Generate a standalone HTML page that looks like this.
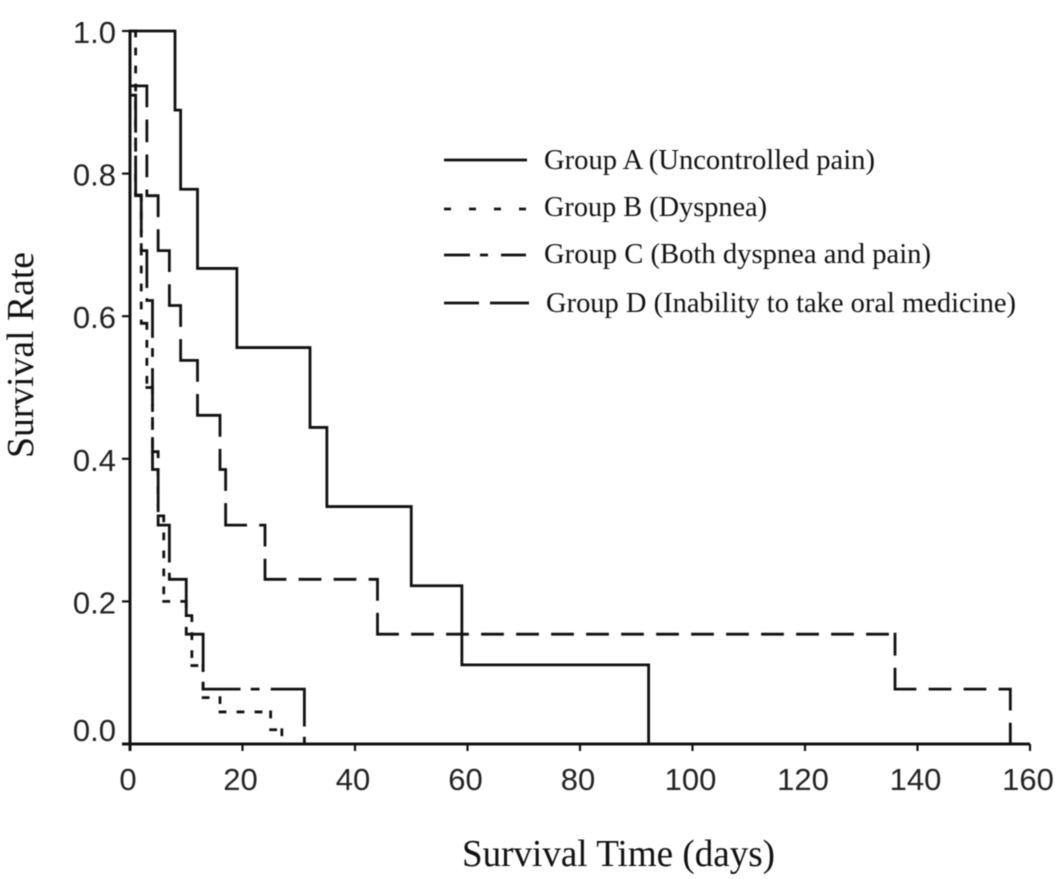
<!DOCTYPE html>
<html>
<head>
<meta charset="utf-8">
<style>
html,body{margin:0;padding:0;background:#fff;width:1063px;height:879px;overflow:hidden}
svg{display:block;filter:blur(.4px)}
.tick{font-family:"Liberation Sans",sans-serif;font-size:31px;fill:#222}
.serif{font-family:"Liberation Serif",serif;fill:#111}
</style>
</head>
<body>
<svg id="chart" width="1063" height="879" viewBox="0 0 1063 879" xmlns="http://www.w3.org/2000/svg">
<g id="axes"></g>
<g id="series"></g>
<g id="legend">
<line x1="444" x2="527" y1="160" y2="160" stroke="#111" stroke-width="2.8"/>
<text class="serif" x="544" y="169" font-size="28" textLength="331" lengthAdjust="spacingAndGlyphs">Group A (Uncontrolled pain)</text>
<line x1="444" x2="527" y1="209" y2="209" stroke="#111" stroke-width="2.8" stroke-dasharray="7 18"/>
<text class="serif" x="544" y="216" font-size="28" textLength="223" lengthAdjust="spacingAndGlyphs">Group B (Dyspnea)</text>
<line x1="444" x2="526" y1="255" y2="255" stroke="#111" stroke-width="2.8" stroke-dasharray="26 10 8 13 26"/>
<text class="serif" x="544" y="263" font-size="28" textLength="387" lengthAdjust="spacingAndGlyphs">Group C (Both dyspnea and pain)</text>
<line x1="444" x2="529" y1="303" y2="303" stroke="#111" stroke-width="2.8" stroke-dasharray="35 11 39"/>
<text class="serif" x="546" y="312" font-size="28" textLength="470" lengthAdjust="spacingAndGlyphs">Group D (Inability to take oral medicine)</text>
</g>
<text class="serif" x="462" y="866" font-size="38" textLength="313" lengthAdjust="spacingAndGlyphs">Survival Time (days)</text>
<text class="serif" transform="translate(33,458) rotate(-90)" font-size="38" textLength="206" lengthAdjust="spacingAndGlyphs">Survival Rate</text>
</svg>
<script>
var xTickValues = [0, 20, 40, 60, 80, 100, 120, 140, 160];
var yTickValues = [0, 0.2, 0.4, 0.6, 0.8, 1];
var yTickLabels = ['0.0', '0.2', '0.4', '0.6', '0.8', '1.0'];

var groupATimes = [8, 9, 12, 19, 32, 35, 50, 59, 92.2];
var groupASurvival = [0.889, 0.778, 0.667, 0.556, 0.444, 0.333, 0.222, 0.111, 0];

var groupBTimes = [1, 2, 3, 4, 5, 6, 10, 11, 13, 16, 25, 27];
var groupBSurvival = [0.77, 0.59, 0.5, 0.41, 0.32, 0.2, 0.18, 0.11, 0.065, 0.045, 0.02, 0];

var groupCTimes = [0, 1, 2, 3, 4, 5, 7, 10, 13, 31];
var groupCSurvival = [0.91, 0.769, 0.692, 0.622, 0.385, 0.307, 0.231, 0.154, 0.077, 0];

var groupDTimes = [0, 3, 5, 7, 9, 12, 16, 17, 24, 44, 136, 156.5];
var groupDSurvival = [0.923, 0.769, 0.692, 0.615, 0.538, 0.461, 0.385, 0.307, 0.231, 0.154, 0.077, 0];

var NS = 'http://www.w3.org/2000/svg';
function xScale(t) { return 130 + t * (900 / 160); }
function yScale(v) { return 744 - v * 713; }

// Each horizontal and vertical run is its own subpath so the dash pattern restarts at every step.
function stepPath(times, values) {
  var d = '';
  var prevT = 0;
  var prevV = times[0] === 0 ? values[0] : 1;
  for (var i = 0; i < times.length; i++) {
    if (times[i] === 0) continue;
    d += 'M' + xScale(prevT) + ' ' + yScale(prevV) + 'H' + xScale(times[i]);
    d += 'M' + xScale(times[i]) + ' ' + yScale(prevV) + 'V' + yScale(values[i]);
    prevT = times[i];
    prevV = values[i];
  }
  return d;
}

var axes = document.getElementById('axes');
var seriesGroup = document.getElementById('series');

function addLine(x1, y1, x2, y2, w) {
  var l = document.createElementNS(NS, 'line');
  l.setAttribute('x1', x1);
  l.setAttribute('y1', y1);
  l.setAttribute('x2', x2);
  l.setAttribute('y2', y2);
  l.setAttribute('stroke', '#111');
  l.setAttribute('stroke-width', w);
  axes.appendChild(l);
  return l;
}

var xAxisLine = addLine(122, yScale(0), xScale(160), yScale(0), 3);


var yAxisLine = addLine(xScale(0), yScale(1), xScale(0), yScale(0) + 7, 3);



xTickValues.forEach(function (t) {
  var mark = addLine(xScale(t), yScale(0), xScale(t), yScale(0) + 7, 2.2);
  
  
  var lab = document.createElementNS(NS, 'text');
  
  
  lab.setAttribute('class', 'tick');
  lab.setAttribute('x', xScale(t) - 2);
  lab.setAttribute('y', 790);
  lab.setAttribute('text-anchor', 'middle');
  lab.textContent = String(t);
  axes.appendChild(lab);
});

yTickValues.forEach(function (v, i) {
  var mark = addLine(122, yScale(v), xScale(0), yScale(v), 2.2);
  
  
  var lab = document.createElementNS(NS, 'text');
  
  
  lab.setAttribute('class', 'tick');
  lab.setAttribute('x', 116);
  lab.setAttribute('y', v === 0 ? yScale(v) - 3 : yScale(v) + 12);
  lab.setAttribute('text-anchor', 'end');
  lab.textContent = yTickLabels[i];
  axes.appendChild(lab);
});

function addSeries(times, values, dash) {
  var p = document.createElementNS(NS, 'path');
  p.setAttribute('d', stepPath(times, values));
  p.setAttribute('fill', 'none');
  p.setAttribute('stroke', '#111');
  p.setAttribute('stroke-width', 2.8);
  p.setAttribute('stroke-linecap', 'square');
  if (dash) p.setAttribute('stroke-dasharray', dash);
  seriesGroup.appendChild(p);
  return p;
}

var lineB = addSeries(groupBTimes, groupBSurvival, '5 13');


var lineC = addSeries(groupCTimes, groupCSurvival, '36 13 6 14');


var lineD = addSeries(groupDTimes, groupDSurvival, '20 15');


var lineA = addSeries(groupATimes, groupASurvival, '');


</script>
</body>
</html>
